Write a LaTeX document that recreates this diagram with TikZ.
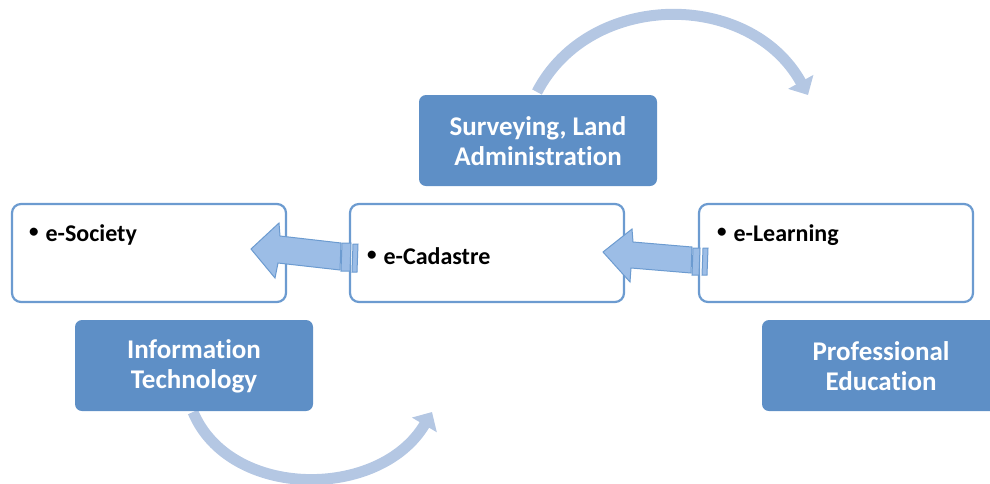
\documentclass[tikz,border=0pt]{standalone}
\usepackage{fontspec}
\setmainfont{Carlito}[Ligatures={NoCommon}]
\usetikzlibrary{arrows.meta}
\definecolor{boxline}{HTML}{6C9BD0}
\definecolor{bluefill}{HTML}{5E8FC6}
\definecolor{arrfill}{HTML}{9CBDE6}
\definecolor{arcblue}{HTML}{B4C7E3}
\newcommand{\smbullet}{\raisebox{4pt}{\fontsize{19}{19}\selectfont •}}
\tikzset{
  whitebox/.style={draw=boxline, line width=2.2pt, fill=white, rounded corners=9pt},
  bluebox/.style={fill=bluefill, rounded corners=7pt},
  bluetext/.style={text=white, font=\fontsize{27}{30}\selectfont\bfseries, align=center},
  itemtext/.style={anchor=west, font=\fontsize{24}{26}\selectfont\bfseries, text=black, inner sep=0pt},
  blockarrow/.style={draw=boxline, line width=1pt, fill=arrfill, line join=miter},
  arcarrow/.style={draw=arcblue, line width=11pt, -{Triangle[length=15pt,width=28pt]}}
}
\begin{document}
\begin{tikzpicture}[x=1pt,y=-1pt]
\useasboundingbox (0,0) rectangle (990,483);
% curved arrows
\coordinate (ta) at (537,92);
\coordinate (tb) at (808,95);
\draw[arcarrow] (ta) .. controls (590,-10) and (750,-10) .. (tb);
\coordinate (ba) at (193,412);
\coordinate (bb) at (432,412);
\draw[arcarrow] (ba) .. controls (230,500) and (380,500) .. (bb);
% white boxes
\draw[whitebox] (12,204) rectangle (286,302);
\draw[whitebox] (350,204) rectangle (624,302);
\draw[whitebox] (699,204) rectangle (973,302);
\node[itemtext] (soc) at (29,235) {\smbullet\hspace{7pt}e-Society};
\node[itemtext] (cad) at (367,256) {\smbullet\hspace{7pt}e-Cadastre};
\node[itemtext] (lea) at (717,235) {\smbullet\hspace{7pt}e-Learning};
% blue boxes
\fill[bluebox] (419,95) rectangle (657,186);
\node[bluetext] (sur) at (538,141) {Surveying, Land\\Administration};
\fill[bluebox] (75,320) rectangle (313,411);
\node[bluetext] (it) at (194,366) {Information\\Technology};
\fill[bluebox] (762,320) rectangle (1000,411);
\node[bluetext] (pe) at (881,366) {Professional\\Education};
% block arrows
\draw[blockarrow] (251,249) -- (279,223) -- (280,236) -- (341,243) -- (340,270) -- (278,263) -- (275,278) -- cycle;
\draw[blockarrow] (342,243) -- (351,243) -- (350,271) -- (341,271) -- cycle;
\draw[blockarrow] (353,244) -- (358,244) -- (357,272) -- (352,272) -- cycle;
\draw[blockarrow] (603,252) -- (632,229) -- (633,242) -- (692,247) -- (691,273) -- (631,268) -- (630,282) -- cycle;
\draw[blockarrow] (693,248) -- (700,248) -- (699,275) -- (692,275) -- cycle;
\draw[blockarrow] (703,248) -- (708,248) -- (707,275) -- (702,275) -- cycle;
\end{tikzpicture}
\end{document}
